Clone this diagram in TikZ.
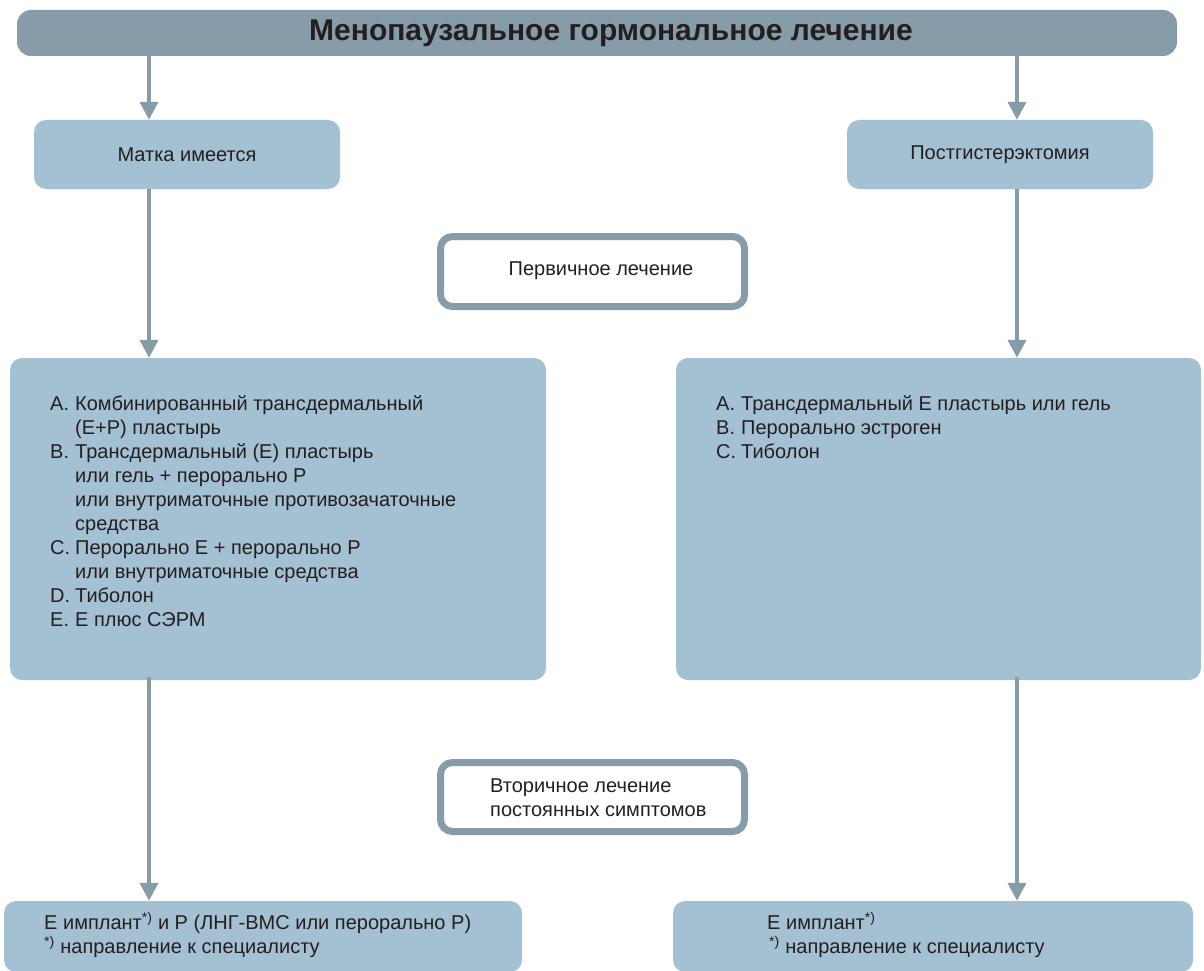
\documentclass[tikz,border=0pt]{standalone}
\usepackage{fontspec}
\setmainfont{Liberation Sans}
\usetikzlibrary{arrows.meta}
\definecolor{bar}{HTML}{869CA9}
\definecolor{pale}{HTML}{A3C1D2}
\definecolor{ink}{HTML}{231F20}
\newcommand{\itm}[1]{\makebox[25pt][l]{#1}}
\newcommand{\ind}{\hspace*{25pt}}
\begin{document}
\begin{tikzpicture}[x=1pt,y=-1pt,
  panel/.style={fill=pale, draw=none, rounded corners=12pt, inner sep=0pt},
  framebox/.style={fill=white, draw=bar, line width=7pt, rounded corners=12pt, inner sep=0pt},
  txt/.style={text=ink, font=\fontsize{20}{24}\selectfont, inner sep=0pt, align=left},
  arr/.style={draw=bar, line width=4pt, -{Triangle[width=18pt,length=18pt]}}]
\clip (0,0) rectangle (1204,971);
\useasboundingbox (0,0) rectangle (1204,971);

% title bar
\node[fill=bar, rounded corners=14pt, minimum width=1160pt, minimum height=46pt, inner sep=0pt] (title) at (597,33) {};
\node[text=ink, font=\fontsize{30}{34}\selectfont\bfseries, inner sep=0pt] (titletext) at (611,33) {Менопаузальное гормональное лечение};

% arrow columns
\coordinate (lx) at (149,0);
\coordinate (rx) at (1017,0);

% first level
\node[panel, minimum width=306pt, minimum height=69pt] (uterus) at (187,154.5) {};
\node[txt] at (uterus) {Матка имеется};
\node[panel, minimum width=306pt, minimum height=69pt] (posthyst) at (1000,154.5) {};
\node[txt] at (posthyst) {Постгистерэктомия};

% primary treatment label
\node[framebox, minimum width=304pt, minimum height=70pt] (primary) at (592.5,271.5) {};
\node[txt] at (601,271) {Первичное лечение};

% primary treatment options
\node[panel, minimum width=536pt, minimum height=322pt] (leftopts) at (278,519) {};
\node[txt, anchor=north west] (lefttext) at (50,395) {%
\itm{A.}Комбинированный трансдермальный\\
\ind(E+P) пластырь\\
\itm{B.}Трансдермальный (E) пластырь\\
\ind или гель + перорально P\\
\ind или внутриматочные противозачаточные\\
\ind средства\\
\itm{C.}Перорально E + перорально P\\
\ind или внутриматочные средства\\
\itm{D.}Тиболон\\
\itm{E.}E плюс СЭРМ};

\node[panel, minimum width=525pt, minimum height=322pt] (rightopts) at (938.5,519) {};
\node[txt, anchor=north west] (righttext) at (716,395) {%
\itm{A.}Трансдермальный E пластырь или гель\\
\itm{B.}Перорально эстроген\\
\itm{C.}Тиболон};

% secondary treatment label
\node[framebox, minimum width=304pt, minimum height=69pt] (secondary) at (592.5,797) {};
\node[txt, anchor=west] at (490,798) {Вторичное лечение\\постоянных симптомов};

% secondary treatment options
\node[panel, minimum width=518pt, minimum height=71pt] (leftsec) at (263,936.5) {};
\node[txt, anchor=north west] at (44,912) {%
E имплант\textsuperscript{*)} и P (ЛНГ-ВМС или перорально P)\\
\textsuperscript{*)} направление к специалисту};
\node[panel, minimum width=520pt, minimum height=71pt] (rightsec) at (933,936.5) {};
\node[txt, anchor=north west] at (767,912) {%
E имплант\textsuperscript{*)}\\
\hspace*{2pt}\textsuperscript{*)} направление к специалисту};

% connectors
\draw[arr] (title.south -| lx) -- (uterus.north -| lx);
\draw[arr] (title.south -| rx) -- (posthyst.north -| rx);
\draw[arr] (uterus.south -| lx) -- (leftopts.north -| lx);
\draw[arr] (posthyst.south -| rx) -- (rightopts.north -| rx);
\draw[arr] ([yshift=3pt]leftopts.south -| lx) -- (leftsec.north -| lx);
\draw[arr] ([yshift=3pt]rightopts.south -| rx) -- (rightsec.north -| rx);
\end{tikzpicture}
\end{document}
